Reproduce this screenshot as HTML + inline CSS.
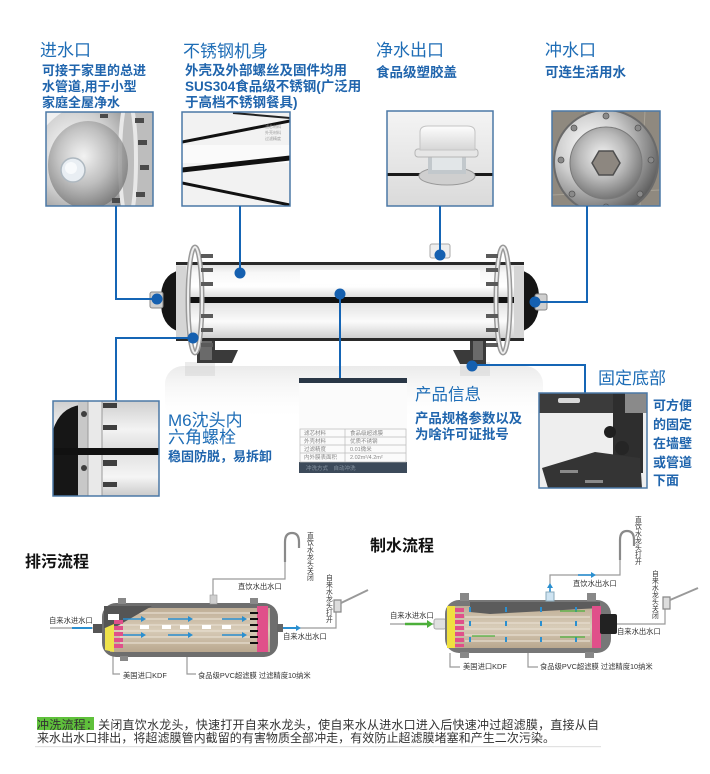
<!DOCTYPE html>
<html><head><meta charset="utf-8">
<style>
html,body{margin:0;padding:0;background:#fff;}
svg{display:block;}
text{font-family:"Liberation Sans","Noto Sans CJK SC",sans-serif;}
</style></head>
<body>
<svg width="710" height="774" viewBox="0 0 710 774" xmlns="http://www.w3.org/2000/svg">
<defs>
  <radialGradient id="silverA" cx="35%" cy="35%" r="70%">
    <stop offset="0" stop-color="#ffffff"/><stop offset="0.45" stop-color="#cfcfcf"/><stop offset="0.8" stop-color="#8a8a8a"/><stop offset="1" stop-color="#5e5e5e"/>
  </radialGradient>
  <radialGradient id="silverB" cx="45%" cy="40%" r="65%">
    <stop offset="0" stop-color="#f2f2f2"/><stop offset="0.5" stop-color="#b9b9b9"/><stop offset="1" stop-color="#6a6a6a"/>
  </radialGradient>
  <linearGradient id="body" x1="0" y1="0" x2="0" y2="1">
    <stop offset="0" stop-color="#dcdcdc"/><stop offset="0.12" stop-color="#f7f7f7"/><stop offset="0.3" stop-color="#ffffff"/><stop offset="0.45" stop-color="#d9d9d9"/>
    <stop offset="0.55" stop-color="#e6e6e6"/><stop offset="0.75" stop-color="#fbfbfb"/><stop offset="1" stop-color="#c8c8c8"/>
  </linearGradient>
  <linearGradient id="refl" x1="0" y1="0" x2="0" y2="1">
    <stop offset="0" stop-color="#dadada" stop-opacity="0.55"/><stop offset="1" stop-color="#ffffff" stop-opacity="0"/>
  </linearGradient>
  <linearGradient id="ph3" x1="0" y1="0" x2="0" y2="1">
    <stop offset="0" stop-color="#f4f4f4"/><stop offset="1" stop-color="#dadada"/>
  </linearGradient>
  <linearGradient id="cap" x1="0" y1="0" x2="0" y2="1">
    <stop offset="0" stop-color="#fdfdfd"/><stop offset="1" stop-color="#d6d6d6"/>
  </linearGradient>
  <linearGradient id="ph5" x1="0" y1="0" x2="0" y2="1">
    <stop offset="0" stop-color="#cfcfcf"/><stop offset="0.3" stop-color="#f3f3f3"/><stop offset="0.5" stop-color="#dedede"/><stop offset="0.8" stop-color="#f5f5f5"/><stop offset="1" stop-color="#cacaca"/>
  </linearGradient>
  <linearGradient id="tan" x1="0" y1="0" x2="0" y2="1">
    <stop offset="0" stop-color="#bfae96"/><stop offset="0.5" stop-color="#d8ccb8"/><stop offset="1" stop-color="#b9a78e"/>
  </linearGradient>
  <clipPath id="c1"><rect x="46" y="112" width="107" height="94"/></clipPath>
  <clipPath id="c2"><rect x="182" y="112" width="108" height="94"/></clipPath>
  <clipPath id="c3"><rect x="387" y="111" width="106" height="95"/></clipPath>
  <clipPath id="c4"><rect x="552" y="111" width="108" height="95"/></clipPath>
  <clipPath id="c5"><rect x="53" y="401" width="106" height="95"/></clipPath>
  <clipPath id="c6"><rect x="539" y="393" width="108" height="95"/></clipPath>
  <clipPath id="c7"><rect x="299" y="378" width="108" height="95"/></clipPath>
</defs>

<!-- ============ TOP LABELS ============ -->
<g fill="#1e6db6">
  <text x="40" y="56" font-size="17">进水口</text>
  <text x="183" y="57" font-size="17">不锈钢机身</text>
  <text x="376" y="56" font-size="17">净水出口</text>
  <text x="545" y="56" font-size="17">冲水口</text>
</g>
<g fill="#2065ad" font-weight="bold">
  <text x="42" y="75" font-size="13">可接于家里的总进</text>
  <text x="42" y="91" font-size="13">水管道,用于小型</text>
  <text x="42" y="107" font-size="13">家庭全屋净水</text>
  <text x="185" y="75" font-size="13.5">外壳及外部螺丝及固件均用</text>
  <text x="185" y="91" font-size="13.5">SUS304食品级不锈钢(广泛用</text>
  <text x="185" y="107" font-size="13.5">于高档不锈钢餐具)</text>
  <text x="376" y="77" font-size="13.5">食品级塑胶盖</text>
  <text x="545" y="77" font-size="13.5">可连生活用水</text>
</g>

<!-- ============ PHOTO 1 ============ -->
<g clip-path="url(#c1)">
  <rect x="46" y="112" width="107" height="94" fill="#dcdcdc"/>
  <rect x="46" y="112" width="60" height="30" fill="#f0f0f0"/>
  <ellipse cx="92" cy="172" rx="62" ry="68" fill="url(#silverA)"/>
  <rect x="122" y="112" width="31" height="94" fill="#bdbdbd"/>
  <ellipse cx="128" cy="160" rx="8" ry="60" fill="none" stroke="#e8e8e8" stroke-width="4"/>
  <ellipse cx="88" cy="165" rx="40" ry="44" fill="url(#silverB)" opacity="0.8"/>
  <g fill="#4a4a4a">
    <rect x="135" y="118" width="9" height="5"/><rect x="138" y="140" width="9" height="5"/>
    <rect x="140" y="165" width="9" height="5"/><rect x="136" y="192" width="9" height="5"/>
    <rect x="100" y="114" width="8" height="4"/><rect x="112" y="198" width="8" height="5"/>
  </g>
  <circle cx="73" cy="170" r="12" fill="#e9eef3" stroke="#aeb8c0" stroke-width="1.5"/>
  <circle cx="71" cy="168" r="6" fill="#f8fafc"/>
</g>
<rect x="46" y="112" width="107" height="94" fill="none" stroke="#4b78a6" stroke-width="1.5"/>

<!-- ============ PHOTO 2 ============ -->
<g clip-path="url(#c2)">
  <rect x="182" y="112" width="108" height="94" fill="#f2f2f2"/>
  <rect x="182" y="145" width="108" height="18" fill="#fafafa"/>
  <line x1="182" y1="142" x2="290" y2="121" stroke="#111" stroke-width="3"/>
  <line x1="233" y1="113" x2="290" y2="118" stroke="#222" stroke-width="2"/>
  <line x1="182" y1="170" x2="290" y2="158" stroke="#111" stroke-width="5"/>
  <line x1="182" y1="183" x2="290" y2="205" stroke="#111" stroke-width="3"/>
  <g fill="#999" font-size="4"><text x="265" y="128">滤芯材料</text><text x="265" y="134">外壳材料</text><text x="265" y="140">过滤精度</text></g>
</g>
<rect x="182" y="112" width="108" height="94" fill="none" stroke="#4b78a6" stroke-width="1.5"/>

<!-- ============ PHOTO 3 ============ -->
<g clip-path="url(#c3)">
  <rect x="387" y="111" width="106" height="95" fill="url(#ph3)"/>
  <rect x="387" y="173" width="106" height="3" fill="#1a1a1a"/>
  <ellipse cx="447" cy="176" rx="28" ry="9" fill="#cfcfcf" stroke="#9a9a9a"/>
  <rect x="428" y="154" width="38" height="20" fill="#c2c8cc"/>
  <rect x="432" y="156" width="30" height="14" fill="#e2e6e8"/>
  <rect x="415" y="149" width="63" height="8" rx="3" fill="#e6e6e6" stroke="#b5b5b5"/>
  <path d="M420 150 L420 132 Q420 126 428 126 L467 126 Q475 126 475 132 L475 150 Z" fill="url(#cap)" stroke="#c4c4c4"/>
</g>
<rect x="387" y="111" width="106" height="95" fill="none" stroke="#4b78a6" stroke-width="1.5"/>

<!-- ============ PHOTO 4 ============ -->
<g clip-path="url(#c4)">
  <rect x="552" y="111" width="108" height="95" fill="#8f897f"/>
  <g stroke="#a8a296" stroke-width="1"><line x1="552" y1="195" x2="660" y2="190"/><line x1="575" y1="206" x2="585" y2="111"/><line x1="640" y1="206" x2="645" y2="111"/></g>
  <circle cx="606" cy="162" r="52" fill="url(#silverA)" stroke="#6a6a6a" stroke-width="2"/>
  <g fill="#8a8a8a" stroke="#555" stroke-width="0.8">
    <circle cx="606" cy="116" r="3"/><circle cx="638" cy="128" r="3"/><circle cx="651" cy="160" r="3"/><circle cx="640" cy="194" r="3"/>
    <circle cx="574" cy="128" r="3"/><circle cx="561" cy="160" r="3"/><circle cx="572" cy="194" r="3"/><circle cx="606" cy="207" r="3"/>
  </g>
  <circle cx="606" cy="163" r="36" fill="url(#silverB)" stroke="#7a7a7a"/>
  <polygon points="620,163 613,175 599,175 592,163 599,151 613,151" fill="#8d8780" stroke="#4f4f4f" stroke-width="1.5"/>
</g>
<rect x="552" y="111" width="108" height="95" fill="none" stroke="#4b78a6" stroke-width="1.5"/>

<!-- ============ MAIN FILTER ============ -->
<!-- reflection -->
<rect x="165" y="366" width="378" height="55" rx="18" fill="url(#refl)"/>
<rect x="185" y="362" width="30" height="14" fill="#c8c8c8" opacity="0.35"/>
<rect x="460" y="362" width="30" height="14" fill="#c8c8c8" opacity="0.35"/>

<!-- brackets -->
<path d="M197 330 L215 330 L215 350 L238 350 L232 363 L197 363 Z" fill="#3a3a3a"/>
<path d="M200 333 L212 333 L212 360 L200 360 Z" fill="#6a6a6a"/>
<path d="M486 330 L470 330 L470 350 L453 350 L460 364 L486 364 Z" fill="#3a3a3a"/>
<path d="M483 333 L473 333 L473 360 L483 360 Z" fill="#6a6a6a"/>

<!-- body -->
<rect x="176" y="263" width="348" height="78" fill="url(#body)"/>
<rect x="176" y="262" width="348" height="3" fill="#2a2a2a"/>
<rect x="176" y="338" width="348" height="3" fill="#2a2a2a"/>
<rect x="176" y="297" width="348" height="6" fill="#111"/>
<rect x="300" y="270" width="180" height="14" fill="#ffffff"/>

<!-- end caps -->
<path d="M180 270 Q160 275 161 300 Q160 326 180 332 Z" fill="#151515"/>
<path d="M520 270 Q540 275 539 300 Q540 326 520 332 Z" fill="#151515"/>
<rect x="176" y="266" width="10" height="72" fill="#d5d5d5"/>
<rect x="514" y="266" width="10" height="72" fill="#d5d5d5"/>

<!-- flanges -->
<ellipse cx="195" cy="300" rx="7" ry="53" fill="none" stroke="#9a9a9a" stroke-width="5"/>
<ellipse cx="195" cy="300" rx="7" ry="53" fill="none" stroke="#eeeeee" stroke-width="2"/>
<ellipse cx="503" cy="300" rx="7" ry="53" fill="none" stroke="#9a9a9a" stroke-width="5"/>
<ellipse cx="503" cy="300" rx="7" ry="53" fill="none" stroke="#eeeeee" stroke-width="2"/>
<g fill="#5a5a5a">
  <rect x="201" y="254" width="12" height="4"/><rect x="201" y="268" width="12" height="4"/><rect x="201" y="282" width="12" height="4"/>
  <rect x="201" y="314" width="12" height="4"/><rect x="201" y="328" width="12" height="4"/><rect x="201" y="343" width="12" height="4"/>
  <rect x="486" y="254" width="12" height="4"/><rect x="486" y="268" width="12" height="4"/><rect x="486" y="282" width="12" height="4"/>
  <rect x="486" y="314" width="12" height="4"/><rect x="486" y="328" width="12" height="4"/><rect x="486" y="343" width="12" height="4"/>
</g>
<!-- nozzles -->
<rect x="150" y="292" width="13" height="16" rx="2" fill="#cfcfcf" stroke="#888"/>
<rect x="535" y="294" width="12" height="16" rx="2" fill="#cfcfcf" stroke="#888"/>
<rect x="430" y="244" width="20" height="14" rx="2" fill="#eeeeee" stroke="#aaa"/>

<!-- ============ CONNECTORS ============ -->
<g stroke="#1565b5" stroke-width="2" fill="none">
  <polyline points="116,206 116,299 157,299"/>
  <polyline points="240,206 240,273"/>
  <polyline points="440,206 440,255"/>
  <polyline points="587,206 587,302 535,302"/>
  <polyline points="340,294 340,378"/>
  <polyline points="193,338 116,338 116,401"/>
  <polyline points="472,365 585,365 585,393"/>
</g>
<g fill="#1560b0">
  <circle cx="157" cy="299" r="5.5"/>
  <circle cx="240" cy="273" r="5.5"/>
  <circle cx="440" cy="255" r="5.5"/>
  <circle cx="535" cy="302" r="5.5"/>
  <circle cx="340" cy="294" r="5.5"/>
  <circle cx="193" cy="338" r="5.5"/>
  <circle cx="472" cy="366" r="5.5"/>
</g>

<!-- ============ PHOTO 5 ============ -->
<g clip-path="url(#c5)">
  <rect x="53" y="401" width="106" height="95" fill="url(#ph5)"/>
  <path d="M53 496 L53 430 Q60 408 80 405 L80 496 Z" fill="#161616"/>
  <rect x="78" y="401" width="12" height="95" fill="#c8c8c8"/>
  <rect x="88" y="401" width="14" height="95" fill="#e9e9e9" stroke="#9a9a9a"/>
  <rect x="53" y="448" width="106" height="7" fill="#111"/>
  <g fill="#3f3f3f">
    <rect x="103" y="403" width="14" height="5"/><rect x="103" y="425" width="14" height="5"/>
    <rect x="103" y="460" width="14" height="6"/><rect x="103" y="482" width="14" height="5"/>
    <circle cx="84" cy="414" r="3"/><circle cx="84" cy="468" r="3"/>
  </g>
</g>
<rect x="53" y="401" width="106" height="95" fill="none" stroke="#4b78a6" stroke-width="1.5"/>

<!-- ============ INFO BOX ============ -->
<g clip-path="url(#c7)">
  <rect x="299" y="378" width="108" height="95" fill="#fbfbfb"/>
  <rect x="299" y="378" width="108" height="5" fill="#2a3746"/>
  <rect x="299" y="462" width="108" height="11" fill="#3c4a5a"/>
  <g stroke="#bbb" stroke-width="0.7" fill="none">
    <rect x="300" y="429" width="106" height="33"/>
    <line x1="300" y1="437" x2="406" y2="437"/><line x1="300" y1="445" x2="406" y2="445"/><line x1="300" y1="453" x2="406" y2="453"/>
    <line x1="345" y1="429" x2="345" y2="462"/>
  </g>
  <g fill="#888" font-size="5.5">
    <text x="304" y="435">滤芯材料</text><text x="350" y="435">食品级超滤膜</text>
    <text x="304" y="443">外壳材料</text><text x="350" y="443">优质不锈钢</text>
    <text x="304" y="451">过滤精度</text><text x="350" y="451">0.01微米</text>
    <text x="304" y="459">内外膜表面积</text><text x="350" y="459">2.02m²/4.2m²</text>
  </g>
  <text x="306" y="470" font-size="5.5" fill="#8a96a4">冲洗方式　自动冲洗</text>
</g>

<!-- ============ PHOTO 6 ============ -->
<g clip-path="url(#c6)">
  <rect x="539" y="393" width="108" height="95" fill="#eeeeee"/>
  <rect x="539" y="393" width="108" height="20" fill="#3b3b3b"/>
  <rect x="558" y="398" width="22" height="5" rx="2" fill="#d8d8d8"/>
  <rect x="613" y="393" width="30" height="80" fill="#2e2e2e"/>
  <rect x="625" y="393" width="22" height="20" fill="#8a8a8a"/>
  <circle cx="610" cy="432" r="6" fill="#1f1f1f"/><circle cx="622" cy="448" r="7" fill="#252525"/>
  <polygon points="542,468 595,452 640,458 642,488 548,488" fill="#343434"/>
  <rect x="560" y="470" width="18" height="3" fill="#8a8a8a"/>
  <rect x="585" y="480" width="18" height="3" fill="#8a8a8a"/>
</g>
<rect x="539" y="393" width="108" height="95" fill="none" stroke="#4b78a6" stroke-width="1.5"/>

<!-- ============ LOWER LABELS ============ -->
<g fill="#1e6db6">
  <text x="168" y="426" font-size="17">M6沈头内</text>
  <text x="168" y="443" font-size="17">六角螺栓</text>
  <text x="415" y="400" font-size="16.5">产品信息</text>
  <text x="598" y="384" font-size="17">固定底部</text>
</g>
<g fill="#2065ad" font-weight="bold">
  <text x="168" y="461" font-size="13">稳固防脱，易拆卸</text>
  <text x="415" y="423" font-size="13.4">产品规格参数以及</text>
  <text x="415" y="439" font-size="13.4">为啥许可证批号</text>
  <text x="653" y="410" font-size="13">可方便</text>
  <text x="653" y="429" font-size="13">的固定</text>
  <text x="653" y="448" font-size="13">在墙壁</text>
  <text x="653" y="467" font-size="13">或管道</text>
  <text x="653" y="485" font-size="13">下面</text>
</g>

<!-- ============ FLOW DIAGRAM TITLES ============ -->
<text x="25" y="567" font-size="16" font-weight="bold" fill="#111">排污流程</text>
<text x="370" y="551" font-size="16" font-weight="bold" fill="#111">制水流程</text>

<!-- ============ LEFT DIAGRAM ============ -->
<g stroke="#9a9a9a" stroke-width="1.2" fill="none">
  <line x1="50" y1="628" x2="94" y2="628"/>
  <polyline points="213,597 213,579 285,579 285,560"/>
  <path d="M285 562 L285 542 Q285 533 292 533 Q299 533 299 542 L299 548" stroke="#8a8a8a" stroke-width="2.2"/>
  <polyline points="300,628 336,628 336,608"/>
  <path d="M334 612 L334 600 L341 600 L341 612 Z" fill="#ddd" stroke="#888"/>
  <line x1="341" y1="603" x2="368" y2="590" stroke="#999" stroke-width="2"/>
  <polyline points="113,655 113,674 120,674"/>
  <polyline points="187,652 187,674 196,674"/>
</g>
<line x1="72" y1="628" x2="92" y2="628" stroke="#2a8fd0" stroke-width="2"/>
<rect x="93" y="624" width="10" height="9" fill="#555"/>
<rect x="102" y="603" width="176" height="54" rx="14" fill="#6e6e6e"/>
<rect x="110" y="608" width="160" height="44" fill="url(#tan)"/>
<g stroke="#e6ddcf" stroke-width="1.3">
  <line x1="120" y1="613" x2="256" y2="613"/><line x1="120" y1="619" x2="256" y2="619"/><line x1="120" y1="625" x2="256" y2="625"/>
  <line x1="120" y1="631" x2="256" y2="631"/><line x1="120" y1="637" x2="256" y2="637"/><line x1="120" y1="643" x2="256" y2="643"/>
</g>
<polygon points="104,606 152,606 114,628 104,628" fill="#555"/>
<rect x="108" y="614" width="11" height="6" fill="#fff"/>
<polygon points="105,628 114,624 114,652 105,650" fill="#efe24a"/>
<g fill="#e0508a"><rect x="114" y="620" width="9" height="4"/><rect x="114" y="626" width="9" height="4"/><rect x="114" y="632" width="9" height="4"/><rect x="114" y="638" width="9" height="4"/><rect x="114" y="644" width="9" height="4"/></g>
<rect x="257" y="606" width="11" height="46" fill="#e0508a"/>
<g fill="#111"><rect x="250" y="612" width="8" height="2"/><rect x="250" y="618" width="8" height="2"/><rect x="250" y="624" width="8" height="2"/><rect x="250" y="630" width="8" height="2"/><rect x="250" y="636" width="8" height="2"/><rect x="250" y="642" width="8" height="2"/></g>
<g fill="#fff"><rect x="140" y="625" width="9" height="4"/><rect x="162" y="625" width="9" height="4"/><rect x="180" y="625" width="9" height="4"/><rect x="202" y="625" width="9" height="4"/><rect x="222" y="625" width="9" height="4"/></g>
<g stroke="#2a8fd0" stroke-width="1.5">
  <line x1="123" y1="619" x2="143" y2="619"/><line x1="168" y1="619" x2="190" y2="619"/><line x1="222" y1="619" x2="244" y2="619"/>
  <line x1="123" y1="635" x2="143" y2="635"/><line x1="168" y1="635" x2="190" y2="635"/><line x1="222" y1="635" x2="244" y2="635"/>
  <line x1="280" y1="628" x2="298" y2="628" stroke-width="2"/>
</g>
<g fill="#2a8fd0"><polygon points="146,619 141,616 141,622"/><polygon points="193,619 188,616 188,622"/><polygon points="247,619 242,616 242,622"/>
<polygon points="146,635 141,632 141,638"/><polygon points="193,635 188,632 188,638"/><polygon points="247,635 242,632 242,638"/><polygon points="301,628 296,625 296,631"/></g>
<rect x="277" y="624" width="6" height="8" fill="#666"/>
<rect x="210" y="595" width="7" height="9" fill="#cfcfcf" stroke="#999" stroke-width="0.6"/>
<rect x="118" y="598" width="8" height="6" fill="#888"/><rect x="250" y="598" width="8" height="6" fill="#888"/>
<rect x="120" y="656" width="8" height="5" fill="#888"/>
<g fill="#333" font-size="7.3">
  <text x="49" y="623">自来水进水口</text>
  <text x="283" y="639">自来水出水口</text>
  <text x="238" y="589">直饮水出水口</text>
  <text x="123" y="678">美国进口KDF</text>
  <text x="198" y="678">食品级PVC超滤膜 过滤精度10纳米</text>
</g>
<g fill="#333" font-size="6.8">
  <text x="307" y="538">直</text><text x="307" y="545">饮</text><text x="307" y="552">水</text><text x="307" y="559">龙</text><text x="307" y="566">头</text><text x="307" y="573">关</text><text x="307" y="580">闭</text>
  <text x="326" y="580">自</text><text x="326" y="587">来</text><text x="326" y="594">水</text><text x="326" y="601">龙</text><text x="326" y="608">头</text><text x="326" y="615">打</text><text x="326" y="622">开</text>
</g>

<!-- ============ RIGHT DIAGRAM ============ -->
<g stroke="#9a9a9a" stroke-width="1.2" fill="none">
  <line x1="390" y1="624" x2="436" y2="624"/>
  <polyline points="550,598 550,575 620,575 620,558"/>
  <path d="M620 560 L620 540 Q620 531 627 531 Q634 531 634 540 L634 546" stroke="#8a8a8a" stroke-width="2.2"/>
  <polyline points="617,624 665,624 665,606"/>
  <path d="M663 609 L663 597 L670 597 L670 609 Z" fill="#ddd" stroke="#888"/>
  <line x1="670" y1="600" x2="698" y2="588" stroke="#999" stroke-width="2"/>
  <polyline points="450,653 450,667 460,667"/>
  <polyline points="528,650 528,667 538,667"/>
</g>
<line x1="405" y1="624" x2="428" y2="624" stroke="#4caf3a" stroke-width="2.5"/>
<polygon points="433,624 427,620 427,628" fill="#4caf3a"/>
<rect x="434" y="619" width="12" height="10" rx="2" fill="#e0e0e0" stroke="#aaa"/>
<rect x="445" y="600" width="166" height="53" rx="14" fill="#777"/>
<rect x="452" y="606" width="148" height="42" fill="url(#tan)"/>
<polygon points="470,602 600,602 600,608 490,614 470,612" fill="#5c5c5c"/>
<g stroke="#e6ddcf" stroke-width="1.3">
  <line x1="465" y1="617" x2="590" y2="617"/><line x1="465" y1="623" x2="590" y2="623"/><line x1="465" y1="629" x2="590" y2="629"/>
  <line x1="465" y1="635" x2="590" y2="635"/><line x1="465" y1="641" x2="590" y2="641"/>
</g>
<rect x="447" y="606" width="8" height="42" fill="#f0e040"/>
<g fill="#e0508a"><rect x="455" y="608" width="9" height="4"/><rect x="455" y="614" width="9" height="4"/><rect x="455" y="620" width="9" height="4"/><rect x="455" y="626" width="9" height="4"/><rect x="455" y="632" width="9" height="4"/><rect x="455" y="638" width="9" height="4"/><rect x="455" y="644" width="9" height="3"/></g>
<rect x="592" y="606" width="9" height="42" fill="#e0508a"/>
<rect x="600" y="614" width="17" height="20" rx="2" fill="#222"/>
<g fill="#2a8fd0"><rect x="469" y="607" width="2" height="5"/><rect x="505" y="607" width="2" height="5"/><rect x="540" y="607" width="2" height="5"/><rect x="575" y="607" width="2" height="5"/>
<rect x="469" y="621" width="2" height="5"/><rect x="505" y="621" width="2" height="5"/><rect x="540" y="621" width="2" height="5"/><rect x="575" y="621" width="2" height="5"/>
<rect x="469" y="637" width="2" height="5"/><rect x="505" y="637" width="2" height="5"/><rect x="540" y="637" width="2" height="5"/><rect x="575" y="637" width="2" height="5"/></g>
<g stroke="#4caf3a" stroke-width="1.2"><line x1="560" y1="611" x2="585" y2="611"/><line x1="560" y1="637" x2="585" y2="637"/><line x1="472" y1="636" x2="495" y2="636"/></g>
<g stroke="#2a8fd0" stroke-width="1.6"><line x1="550" y1="598" x2="550" y2="587"/><line x1="578" y1="575" x2="592" y2="575"/></g>
<g fill="#2a8fd0"><polygon points="550,583 547,588 553,588"/><polygon points="596,575 591,572 591,578"/></g>
<rect x="546" y="592" width="8" height="9" fill="#cfe4f2" stroke="#8ab"/>
<rect x="460" y="593" width="9" height="8" fill="#888"/><rect x="587" y="593" width="9" height="8" fill="#888"/>
<rect x="460" y="652" width="9" height="6" fill="#888"/><rect x="585" y="652" width="9" height="6" fill="#888"/>
<g fill="#333" font-size="7.3">
  <text x="390" y="618">自来水进水口</text>
  <text x="617" y="634">自来水出水口</text>
  <text x="573" y="586">直饮水出水口</text>
  <text x="463" y="669">美国进口KDF</text>
  <text x="540" y="669">食品级PVC超滤膜 过滤精度10纳米</text>
</g>
<g fill="#333" font-size="6.8">
  <text x="635" y="522">直</text><text x="635" y="529">饮</text><text x="635" y="536">水</text><text x="635" y="543">龙</text><text x="635" y="550">头</text><text x="635" y="557">打</text><text x="635" y="564">开</text>
  <text x="652" y="576">自</text><text x="652" y="583">来</text><text x="652" y="590">水</text><text x="652" y="597">龙</text><text x="652" y="604">头</text><text x="652" y="611">关</text><text x="652" y="618">闭</text>
</g>

<!-- ============ BOTTOM TEXT ============ -->
<rect x="37" y="717" width="57" height="13" fill="#5fc13b"/>
<text x="37" y="729" font-size="12" fill="#333" textLength="562" lengthAdjust="spacing">冲洗流程：关闭直饮水龙头，快速打开自来水龙头，使自来水从进水口进入后快速冲过超滤膜，直接从自</text>
<text x="37" y="742" font-size="12" fill="#333" textLength="518" lengthAdjust="spacing">来水出水口排出，将超滤膜管内截留的有害物质全部冲走，有效防止超滤膜堵塞和产生二次污染。</text>
<rect x="35" y="746" width="566" height="1.2" fill="#e2e2e2"/>
</svg>
</body></html>
